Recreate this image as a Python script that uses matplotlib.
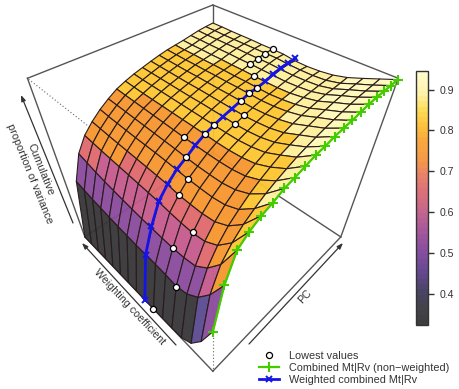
import numpy as np
import matplotlib
matplotlib.use('Agg')
import matplotlib.pyplot as plt
from matplotlib.colors import LinearSegmentedColormap, Normalize
from matplotlib.cm import ScalarMappable

plt.rcParams['font.family'] = ['Liberation Sans', 'DejaVu Sans']

## chart values
pc = np.arange(1, 21)
weights = np.arange(0, 16) / 15
z_low, z_high = 0.3237, 0.9456

# rows are PC 1..20, columns are the 16 weighting coefficients
cum_var = np.array([
    [.560,.440,.360,.328,.325,.324,.324,.324,.324,.324,.324,.324,.324,.324,.324,.324],
    [.720,.630,.565,.528,.515,.522,.526,.528,.530,.534,.538,.544,.550,.556,.565,.573],
    [.809,.715,.655,.618,.610,.608,.610,.613,.616,.621,.626,.632,.638,.646,.656,.666],
    [.836,.760,.710,.685,.678,.680,.684,.690,.693,.696,.699,.702,.705,.708,.712,.716],
    [.855,.792,.750,.728,.722,.722,.723,.729,.732,.734,.736,.738,.740,.742,.745,.748],
    [.866,.815,.778,.760,.754,.754,.755,.758,.761,.763,.764,.765,.767,.769,.771,.774],
    [.882,.835,.803,.785,.777,.776,.776,.778,.781,.783,.785,.787,.789,.791,.793,.795],
    [.889,.850,.823,.806,.799,.797,.797,.798,.799,.801,.803,.805,.807,.809,.811,.813],
    [.898,.863,.840,.823,.816,.813,.813,.815,.816,.817,.818,.819,.820,.821,.823,.825],
    [.907,.875,.855,.837,.829,.825,.825,.826,.827,.828,.829,.830,.831,.832,.833,.835],
    [.911,.884,.865,.848,.839,.835,.834,.836,.837,.838,.838,.839,.840,.841,.842,.843],
    [.918,.892,.875,.858,.849,.845,.843,.844,.845,.846,.847,.847,.848,.849,.850,.851],
    [.922,.899,.883,.867,.858,.853,.851,.852,.853,.853,.854,.855,.855,.856,.857,.858],
    [.925,.905,.890,.874,.865,.860,.858,.859,.860,.860,.861,.861,.862,.862,.863,.864],
    [.930,.910,.895,.879,.870,.865,.862,.863,.864,.864,.865,.866,.866,.867,.867,.868],
    [.935,.915,.900,.884,.875,.869,.867,.867,.868,.869,.869,.870,.870,.871,.871,.872],
    [.938,.919,.904,.888,.878,.874,.872,.873,.874,.875,.875,.876,.876,.876,.877,.877],
    [.939,.921,.906,.890,.881,.878,.877,.878,.880,.880,.880,.881,.881,.881,.881,.882],
    [.940,.923,.908,.892,.883,.880,.880,.881,.884,.884,.884,.884,.884,.884,.885,.885],
    [.942,.926,.910,.895,.885,.880,.878,.879,.884,.885,.885,.886,.886,.886,.887,.887],
])

low_w = [.40,.267,.333,.267,.40,.40,.467,.533,.467,.467,.40,.40,.467,.467,.467,.533,.60,.60,.60,.60]
low_z = [.326,.510,.608,.683,.723,.755,.780,.803,.815,.828,.836,.845,.852,.860,.863,.869,.874,.878,.881,.884]
blue_w = [.467] * 20
blue_z = [.324,.527,.621,.692,.730,.759,.778,.799,.815,.826,.836,.844,.852,.860,.863,.868,.877,.883,.885,.887]
green_z = [.560,.720,.809,.836,.855,.866,.882,.889,.898,.907,.911,.918,.922,.925,.930,.935,.938,.939,.940,.942]

cbar_ticks = [.4, .5, .6, .7, .8, .9]
cbar_labels = ['0.4', '0.5', '0.6', '0.7', '0.8', '0.9']

# the bar is smooth but the facets fall into clear colour steps
cm_vals = [.3237,.36,.40,.45,.50,.55,.60,.65,.69,.73,.78,.82,.86,.89,.9456]
cm_cols = ['#2e2e30','#34343c','#3c3658','#5a3a88','#7c4098','#9c4a94','#c05a84','#d8666e',
           '#e67660','#f5933a','#f9a42e','#fcc030','#fddc50','#fef0a0','#fffcc8']
cmap = LinearSegmentedColormap.from_list('surf', [((v-z_low)/(z_high-z_low), c) for v, c in zip(cm_vals, cm_cols)], N=50)
norm = Normalize(z_low, z_high)

step_edges = [.40, .47, .57, .645, .70, .808, .866, .90]
step_cols = ['#363638', '#5a4a90', '#8a4a9c', '#c45a8c', '#e0686c', '#f7962e', '#fdc62f', '#fdf09c', '#fffab8']
face_cols = np.array(step_cols)[np.digitize(cum_var, step_edges)]

txt_col = '#333333'
box_col = '#555555'

W, cx, cy = 359.387, 208.0, 177.01
fig = plt.figure(figsize=(4.59, 3.89), dpi=100)
ax = fig.add_axes([(cx-W/2)/459, (389-cy-W/2)/389, W/459, W/389], projection='3d')
ax.computed_zorder = False
ax.set_xlim(pc[0], pc[-1])
ax.set_ylim(weights[0], weights[-1])
ax.set_zlim(z_low, z_high)
ax.set_box_aspect((1, 1, .9947))
ax.view_init(elev=43.95, azim=-135)
ax.set_proj_type('persp', focal_length=.20747)
ax.set_axis_off()
ax.patch.set_visible(False)

## box: solid edges first, dotted ones are the near top corner
x0, x1 = pc[0], pc[-1]
y0, y1 = weights[0], weights[-1]
solid = [((x1,y1,z_high),(x0,y1,z_high)), ((x1,y1,z_high),(x1,y0,z_high)), ((x1,y1,z_high),(x1,y1,z_low)),
         ((x0,y1,z_high),(x0,y1,z_low)), ((x1,y0,z_high),(x1,y0,z_low)),
         ((x0,y0,z_low),(x0,y1,z_low)), ((x0,y0,z_low),(x1,y0,z_low)),
         ((x1,y1,z_low),(x0,y1,z_low)), ((x1,y1,z_low),(x1,y0,z_low))]
dotted = [((x0,y0,z_high),(x0,y1,z_high)), ((x0,y0,z_high),(x1,y0,z_high)), ((x0,y0,z_high),(x0,y0,z_low))]
for a, b in solid:
    ax.plot(*zip(a, b), color=box_col, lw=1.0, zorder=1, clip_on=False)
for a, b in dotted:
    ax.plot(*zip(a, b), color='#666666', lw=0.8, ls=(0, (1, 2)), zorder=1, clip_on=False)

X, Y = np.meshgrid(pc, weights, indexing='ij')
surf = ax.plot_surface(X, Y, cum_var, rstride=1, cstride=1, facecolors=face_cols,
                       edgecolor='#2a1c1c', linewidth=0.8, shade=False, alpha=0.95, zorder=2)
surf.set_clip_on(False)

l_green, = ax.plot(pc, np.zeros(20), green_z, color='#44cc00', lw=1.6, marker='+', ms=7, mew=1.5,
                   zorder=3, clip_on=False)
l_blue, = ax.plot(pc, blue_w, blue_z, color='#1414e6', lw=2.0, marker='x', ms=4.5, mew=1.4,
                  zorder=4, clip_on=False)
l_low, = ax.plot(pc, low_w, low_z, ls='none', marker='o', ms=4.4, mfc='white', mec='black', mew=0.9,
                 zorder=5, clip_on=False)

## arrows and axis titles, in pixels of the picture
ov = fig.add_axes([0, 0, 1, 1])
ov.set_xlim(0, 459)
ov.set_ylim(389, 0)
ov.axis('off')
ov.patch.set_visible(False)
arrow = dict(arrowstyle='-|>,head_length=0.35,head_width=0.13', color=txt_col, lw=0.9, shrinkA=0, shrinkB=0)
ov.annotate('', xy=(21, 95), xytext=(73, 223), arrowprops=arrow)
ov.annotate('', xy=(82, 243), xytext=(176, 345), arrowprops=arrow)
ov.annotate('', xy=(343, 243), xytext=(249, 344), arrowprops=arrow)
ov.text(35, 172, 'Cumulative\nproportion of variance', rotation=-68, rotation_mode='anchor', ha='center',
        va='center', fontsize=7.9, color=txt_col, linespacing=1.15)
ov.text(130, 307, 'Weighting coefficient', rotation=-47, rotation_mode='anchor', ha='center', va='center',
        fontsize=7.7, color=txt_col)
ov.text(305, 297, 'PC', rotation=47, rotation_mode='anchor', ha='center', va='center',
        fontsize=7.7, color=txt_col)

## colour bar
cax = fig.add_axes([416/459, 1-325/389, 12/459, 254/389])
sm = ScalarMappable(norm=norm, cmap=cmap)
cb = fig.colorbar(sm, cax=cax, ticks=cbar_ticks, alpha=0.93)
cb.ax.set_yticklabels(cbar_labels)
cb.ax.tick_params(length=4.3, width=1, color=txt_col, labelcolor=txt_col, labelsize=7.6, pad=4)
cb.outline.set_edgecolor(txt_col)
cb.outline.set_linewidth(1)

leg = fig.legend([l_low, l_green, l_blue],
                 ['Lowest values', 'Combined Mt|Rv (non\u2212weighted)', 'Weighted combined Mt|Rv'],
                 loc='lower left', bbox_to_anchor=(259/459, 1-385.3/389), frameon=False, fontsize=7.85,
                 labelcolor=txt_col, handlelength=1.83, handletextpad=0.9, labelspacing=0.21,
                 borderpad=0, borderaxespad=0)

fig.savefig('out.png', dpi=100, facecolor='white')
